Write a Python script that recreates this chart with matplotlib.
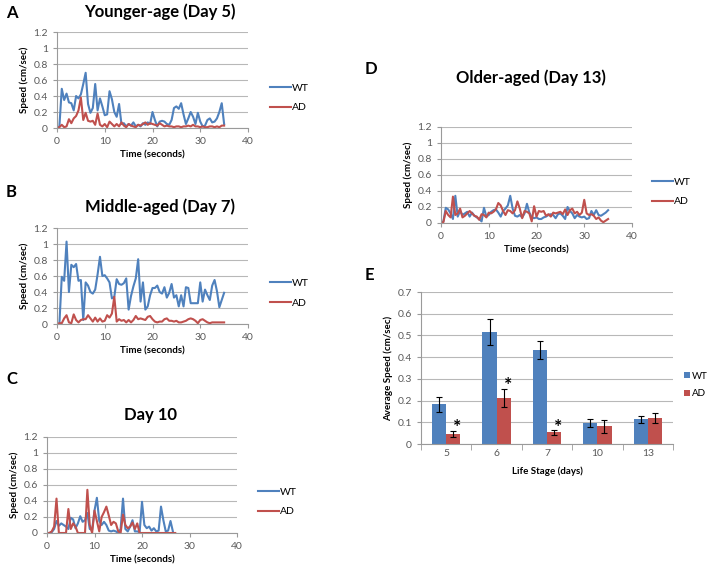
import matplotlib.pyplot as plt
import numpy as np

plt.rcParams['font.family'] = ['Lato', 'DejaVu Sans']

azul = '#4F81BD'
rojo = '#C0504D'
gris = '#595959'

# velocidades muestreadas cada 0.5 s (leídas a ojo del gráfico)
paso = 0.5

wt_dia5 = [0, 0.02, 0.49, 0.35, 0.43, 0.32, 0.31, 0.22, 0.40, 0.37,
           0.42, 0.55, 0.69, 0.30, 0.19, 0.25, 0.55, 0.22, 0.37, 0.27,
           0.16, 0.17, 0.46, 0.36, 0.20, 0.14, 0.30, 0.05, 0.06, 0.02,
           0.05, 0.03, 0.07, 0.02, 0.04, 0.02, 0.06, 0.04, 0.07, 0.05,
           0.20, 0.10, 0.02, 0.08, 0.09, 0.08, 0.05, 0.04, 0.10, 0.25,
           0.27, 0.24, 0.31, 0.17, 0.05, 0.12, 0.20, 0.14, 0.05, 0.19,
           0.08, 0.02, 0.03, 0.10, 0.12, 0.07, 0.08, 0.12, 0.20, 0.31,
           0.05]
ad_dia5 = [0, 0.01, 0.04, 0.01, 0.02, 0.11, 0.06, 0.12, 0.15, 0.22,
           0.38, 0.10, 0.19, 0.09, 0.08, 0.09, 0.04, 0.18, 0.04, 0.02,
           0.05, 0.01, 0.08, 0.05, 0.02, 0.05, 0.02, 0.07, 0.03, 0.01,
           0.05, 0.03, 0.02, 0.01, 0.04, 0.03, 0.05, 0.07, 0.04, 0.06,
           0.05, 0.04, 0.03, 0.06, 0.04, 0.02, 0.03, 0.02, 0.02, 0.01,
           0.02, 0.02, 0.01, 0.02, 0.02, 0.03, 0.02, 0.04, 0.02, 0.02,
           0.01, 0.02, 0.01, 0.01, 0.02, 0.02, 0.01, 0.02, 0.01, 0.03,
           0.03]

wt_dia7 = [0, 0, 0.59, 0.54, 1.03, 0.40, 0.74, 0.71, 0.75, 0.54,
           0.55, 0.05, 0.52, 0.48, 0.40, 0.38, 0.43, 0.62, 0.84, 0.60,
           0.61, 0.57, 0.52, 0.32, 0.34, 0.56, 0.50, 0.49, 0.51, 0.57,
           0.18, 0.35, 0.47, 0.57, 0.81, 0.28, 0.52, 0.18, 0.22, 0.36,
           0.45, 0.45, 0.48, 0.40, 0.38, 0.46, 0.33, 0.39, 0.50, 0.33,
           0.36, 0.22, 0.36, 0.22, 0.46, 0.45, 0.26, 0.26, 0.26, 0.26,
           0.52, 0.28, 0.43, 0.36, 0.30, 0.48, 0.55, 0.41, 0.21, 0.30,
           0.39]
ad_dia7 = [0, 0.01, 0.01, 0.07, 0.11, 0.02, 0.01, 0.12, 0.05, 0.02,
           0.05, 0.06, 0.06, 0.11, 0.07, 0.03, 0.08, 0.03, 0.07, 0.03,
           0.04, 0.11, 0.08, 0.13, 0.34, 0.03, 0.06, 0.04, 0.05, 0.02,
           0.05, 0.02, 0.05, 0.10, 0.06, 0.07, 0.06, 0.05, 0.09, 0.10,
           0.06, 0.03, 0.02, 0.03, 0.03, 0.06, 0.07, 0.04, 0.04, 0.03,
           0.04, 0.02, 0.02, 0.03, 0.04, 0.06, 0.07, 0.06, 0.04, 0.01,
           0.05, 0.06, 0.04, 0.02, 0.01, 0.02, 0.02, 0.02, 0.02, 0.02,
           0.02]

wt_dia10 = [0, 0, 0.01, 0.05, 0.15, 0.09, 0.12, 0.10, 0.08, 0.05,
            0.19, 0.17, 0.06, 0.12, 0.21, 0.14, 0.16, 0.25, 0.05, 0.04,
            0.28, 0.44, 0.15, 0.10, 0.14, 0.10, 0.03, 0.02, 0.03, 0.02,
            0.00, 0.05, 0.43, 0.05, 0.02, 0.08, 0.16, 0.02, 0.02, 0.01,
            0.39, 0.10, 0.06, 0.08, 0.03, 0.06, 0.02, 0.03, 0.33, 0.16,
            0.02, 0.03, 0.15, 0.02]
ad_dia10 = [0, 0, 0.02, 0.08, 0.43, 0, 0, 0, 0, 0.30,
            0.05, 0.12, 0.08, 0, 0, 0, 0, 0.54, 0.10, 0,
            0.28, 0.15, 0.02, 0.20, 0.26, 0.33, 0.22, 0.10, 0.14, 0.12,
            0.02, 0, 0.23, 0.10, 0.06, 0.08, 0.13, 0.05, 0.12, 0,
            0, 0, 0, 0, 0, 0, 0, 0, 0, 0,
            0, 0, 0, 0, 0]

wt_dia13 = [0, 0.02, 0.19, 0.17, 0.12, 0.05, 0.34, 0.08, 0.15, 0.10,
            0.12, 0.14, 0.08, 0.13, 0.09, 0.07, 0.05, 0.02, 0.19, 0.08,
            0.10, 0.14, 0.16, 0.17, 0.13, 0.08, 0.15, 0.18, 0.22, 0.34,
            0.18, 0.09, 0.08, 0.10, 0.07, 0.12, 0.24, 0.13, 0.07, 0.06,
            0.07, 0.05, 0.05, 0.07, 0.08, 0.10, 0.11, 0.10, 0.06, 0.11,
            0.12, 0.09, 0.05, 0.20, 0.15, 0.12, 0.06, 0.10, 0.08, 0.07,
            0.08, 0.05, 0.06, 0.15, 0.10, 0.16, 0.10, 0.09, 0.11, 0.13,
            0.16]
ad_dia13 = [0, 0.01, 0.15, 0.10, 0.07, 0.33, 0.10, 0.12, 0.18, 0.07,
            0.09, 0.12, 0.15, 0.12, 0.09, 0.08, 0.04, 0.11, 0.10, 0.07,
            0.13, 0.12, 0.14, 0.17, 0.25, 0.22, 0.15, 0.10, 0.16, 0.15,
            0.12, 0.16, 0.27, 0.18, 0.06, 0.15, 0.14, 0.12, 0.02, 0.21,
            0.08, 0.15, 0.14, 0.15, 0.09, 0.11, 0.08, 0.13, 0.12, 0.13,
            0.14, 0.11, 0.17, 0.10, 0.16, 0.18, 0.12, 0.14, 0.10, 0.13,
            0.29, 0.12, 0.10, 0.11, 0.09, 0.05, 0.07, 0.03, 0.01, 0.03,
            0.05]

# promedios (panel E)
etapas = ['5', '6', '7', '10', '13']
wt_media = [0.182, 0.516, 0.434, 0.096, 0.113]
wt_error = [0.035, 0.058, 0.041, 0.02, 0.017]
ad_media = [0.045, 0.212, 0.053, 0.082, 0.121]
ad_error = [0.015, 0.042, 0.01, 0.03, 0.023]
significativo = [True, True, True, False, False]

fig = plt.figure(figsize=(7.08, 5.66), dpi=100)


def estilo(ax):
    for lado in ['top', 'right']:
        ax.spines[lado].set_visible(False)
    ax.spines['left'].set_color('#9a9a9a')
    ax.spines['bottom'].set_color('#9a9a9a')
    ax.yaxis.grid(True, color='#b8b8b8', linewidth=0.8)
    ax.set_axisbelow(True)
    ax.tick_params(colors='#9a9a9a', labelcolor=gris, labelsize=7.5, length=3, width=0.8)


def panel_lineas(pos, wt, ad, titulo, titulo_xy, letra, letra_xy, ley_xy):
    ax = fig.add_axes(pos)
    t_wt = np.arange(len(wt)) * paso
    t_ad = np.arange(len(ad)) * paso
    l1, = ax.plot(t_wt, wt, color=azul, lw=1.5, label='WT')
    l2, = ax.plot(t_ad, ad, color=rojo, lw=1.5, label='AD')
    ax.set_xlim(0, 40)
    ax.set_ylim(0, 1.2)
    ax.set_xticks([0, 10, 20, 30, 40])
    ax.set_yticks([0, 0.2, 0.4, 0.6, 0.8, 1, 1.2])
    ax.set_yticklabels(['0', '0.2', '0.4', '0.6', '0.8', '1', '1.2'])
    estilo(ax)
    ax.set_xlabel('Time (seconds)', fontsize=7, fontweight='bold', labelpad=3)
    ax.set_ylabel('Speed (cm/sec)', fontsize=7, fontweight='bold', labelpad=3)
    fig.text(titulo_xy[0], titulo_xy[1], titulo, fontsize=12, fontweight='bold',
             ha='center', va='center')
    fig.text(letra_xy[0], letra_xy[1], letra, fontsize=12, fontweight='bold',
             ha='left', va='center')
    fig.legend(handles=[l1, l2], loc='center left', bbox_to_anchor=ley_xy,
               frameon=False, fontsize=7.5, handlelength=2.0, handletextpad=0.1,
               labelspacing=1.0, borderpad=0, borderaxespad=0)
    return ax


W, H = 708, 566


def caja(x0, x1, y0, y1):
    return [x0 / W, 1 - y1 / H, (x1 - x0) / W, (y1 - y0) / H]


panel_lineas(caja(57, 248, 32, 128), wt_dia5, ad_dia5, 'Younger-age (Day 5)',
             (160 / W, 1 - 12 / H), 'A', (6 / W, 1 - 13 / H), (270 / W, 1 - 98 / H))
panel_lineas(caja(57, 248, 228, 324), wt_dia7, ad_dia7, 'Middle-aged (Day 7)',
             (160 / W, 1 - 207 / H), 'B', (6 / W, 1 - 192 / H), (270 / W, 1 - 293 / H))
panel_lineas(caja(47, 237, 437, 533), wt_dia10, ad_dia10, 'Day 10',
             (150 / W, 1 - 415 / H), 'C', (6 / W, 1 - 379 / H), (258 / W, 1 - 502 / H))
panel_lineas(caja(441, 632, 127, 223), wt_dia13, ad_dia13, 'Older-aged (Day 13)',
             (531 / W, 1 - 78 / H), 'D', (365 / W, 1 - 69 / H), (652 / W, 1 - 192 / H))

# panel E: barras
ax = fig.add_axes(caja(421, 673, 292, 444))
x = np.arange(len(etapas))
ancho = 0.28
b1 = ax.bar(x - ancho / 2, wt_media, ancho, color=azul, label='WT',
            yerr=wt_error, error_kw=dict(ecolor='black', elinewidth=0.8, capsize=2.5, capthick=0.8))
b2 = ax.bar(x + ancho / 2, ad_media, ancho, color=rojo, label='AD',
            yerr=ad_error, error_kw=dict(ecolor='black', elinewidth=0.8, capsize=2.5, capthick=0.8))
for i in range(len(etapas)):
    if significativo[i]:
        ax.text(x[i] + ancho / 2 + 0.08, ad_media[i] + ad_error[i] + 0.015, '*',
                fontsize=14, fontweight='bold', ha='center', va='center')
ax.set_xlim(-0.5, len(etapas) - 0.5)
ax.set_ylim(0, 0.7)
ax.set_yticks(np.arange(0, 0.71, 0.1))
ax.set_yticklabels(['0', '0.1', '0.2', '0.3', '0.4', '0.5', '0.6', '0.7'])
ax.set_xticks(x)
ax.set_xticklabels(etapas)
ax.set_xticks(np.arange(-0.5, len(etapas), 1), minor=True)
estilo(ax)
ax.tick_params(axis='x', which='major', length=0)
ax.tick_params(axis='x', which='minor', length=4, color='#9a9a9a')
ax.set_xlabel('Life Stage (days)', fontsize=7, fontweight='bold', labelpad=6)
ax.set_ylabel('Average Speed (cm/sec)', fontsize=7, fontweight='bold', labelpad=3)
fig.text(365 / W, 1 - 275 / H, 'E', fontsize=12, fontweight='bold', ha='left', va='center')
fig.legend(handles=[b1, b2], loc='center left', bbox_to_anchor=(684 / W, 1 - 385 / H),
           frameon=False, fontsize=7, handlelength=0.6, handleheight=0.6,
           handletextpad=0.25, labelspacing=0.9, borderpad=0, borderaxespad=0)

plt.savefig('out.png', dpi=100)
